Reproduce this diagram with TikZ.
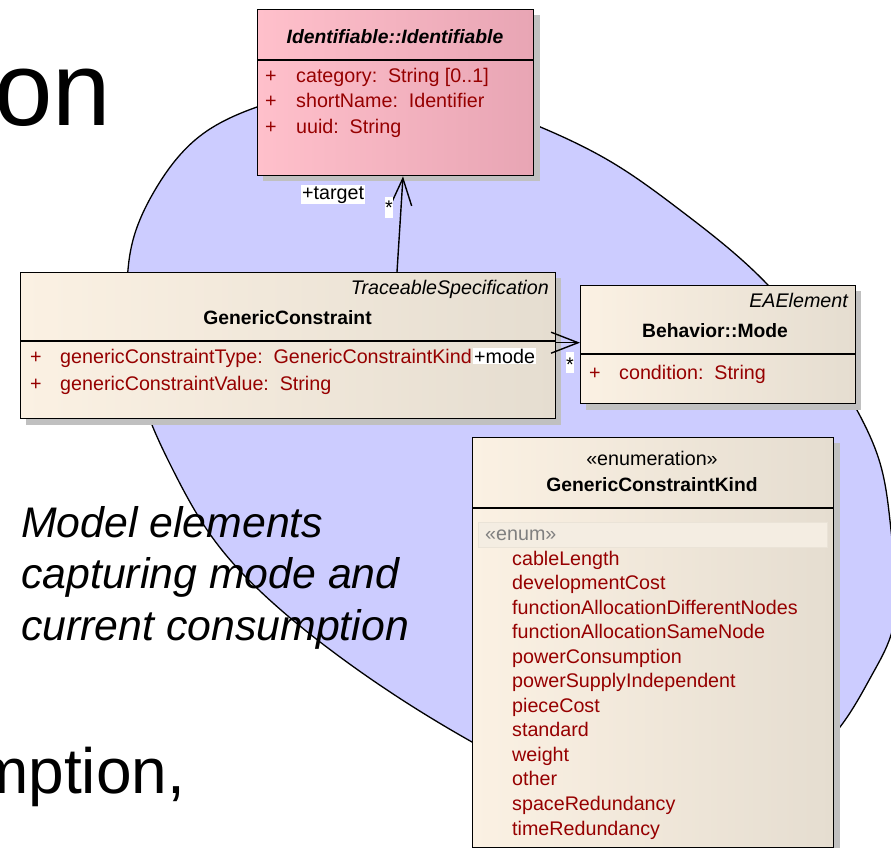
\documentclass[tikz,border=0pt]{standalone}
\usepackage{fontspec}
\setmainfont{Liberation Sans}
\usetikzlibrary{arrows.meta,calc,hobby}
\definecolor{ellfill}{RGB}{204,204,255}
\definecolor{attr}{RGB}{150,0,0}
\definecolor{creamL}{RGB}{251,241,227}
\definecolor{creamR}{RGB}{229,221,208}
\definecolor{pinkL}{RGB}{255,192,203}
\definecolor{pinkR}{RGB}{232,165,180}
\definecolor{shadowgray}{RGB}{192,192,192}
\definecolor{enumrow}{RGB}{244,237,226}
\definecolor{enumrowline}{RGB}{234,227,215}
\newcommand\umlfs{\fontsize{19.7}{24}\selectfont}
\newcommand\umlbf{\fontsize{19.3}{23}\selectfont\bfseries}
\newcommand\umlgap{\hspace{0.55em}}
\begin{document}
\begin{tikzpicture}[x=1pt,y=-1pt,
  umlbox/.style={draw=black,line width=1.4pt,inner sep=0pt,anchor=north west},
  cream/.style={left color=creamL,right color=creamR},
  pinkbox/.style={left color=pinkL,right color=pinkR},
  shadowbox/.style={fill=shadowgray},
  divider/.style={line width=1.3pt},
  txt/.style={inner sep=0pt,font=\umlfs},
  attrtxt/.style={txt,text=attr,anchor=base west},
  titletxt/.style={txt,font=\umlbf,anchor=base},
  stereo/.style={txt,font=\umlfs\itshape,anchor=base east},
  role/.style={txt,fill=white,anchor=base west,inner sep=1pt},
  starbox/.style={fill=white,inner sep=0pt,minimum width=8pt,minimum height=21pt,anchor=north west},
  assoc/.style={line width=1.4pt,-{Straight Barb[length=27pt,width=21pt,line width=1.4pt]}},
  bigtxt/.style={inner sep=0pt,anchor=base west},
  slidetxt/.style={bigtxt,font=\fontsize{42.8}{51}\selectfont\itshape},
]
\useasboundingbox (0,0) rectangle (891,848);
% background ellipse-like shape
\filldraw[fill=ellfill,draw=black,line width=1.3pt] plot[closed hobby] coordinates {
 (127,295) (133,240) (155,190) (200,136) (257,107)
 (320,90) (385,85) (460,98) (538,126) (613,163) (680,210) (767,284)
 (815,343) (858,412) (880,463) (891,530) (896,585) (891,635) (873,673) (840,727)
 (790,772) (720,800) (640,805) (560,785) (472,742) (407,703) (340,657)
 (273,603) (212,537) (173,470) (152,425) (137,380)};
% big slide texts
\node[bigtxt,font=\fontsize{105}{105}\selectfont] (big1) at (-6,126) {on};
\node[bigtxt,font=\fontsize{64}{64}\selectfont] (big2) at (-25,793) {mption,};
\node[slidetxt] (it1) at (21,537) {Model elements};
\node[slidetxt] (it2) at (21,588) {capturing mode and};
\node[slidetxt] (it3) at (21,640) {current consumption};
% shadows
\fill[shadowbox] (263,15) rectangle (540,181);
\fill[shadowbox] (26,278) rectangle (561,425);
\fill[shadowbox] (586,291) rectangle (861,410);
\fill[shadowbox] (478,443) rectangle (840,853);
% boxes
\node[umlbox,pinkbox,minimum width=276pt,minimum height=166pt] (ident) at (257,9) {};
\node[umlbox,cream,minimum width=535pt,minimum height=146pt] (gc) at (20,272) {};
\node[umlbox,cream,minimum width=275pt,minimum height=118pt] (mode) at (580,285) {};
\node[umlbox,cream,minimum width=361pt,minimum height=410pt] (enum) at (472,437) {};
% dividers
\draw[divider] (ident.west |- 0,60) -- (ident.east |- 0,60);
\draw[divider] (gc.west |- 0,341) -- (gc.east |- 0,341);
\draw[divider] (mode.west |- 0,354) -- (mode.east |- 0,354);
\draw[divider] (enum.west |- 0,508) -- (enum.east |- 0,508);
% Identifiable
\node[titletxt,font=\umlbf\itshape] (identt) at (395,44) {Identifiable::Identifiable};
\node[attrtxt] (ip1) at (265,83) {+};
\node[attrtxt] (ia1) at (296,83) {category:\umlgap String [0..1]};
\node[attrtxt] (ip2) at (265,108) {+};
\node[attrtxt] (ia2) at (296,108) {shortName:\umlgap Identifier};
\node[attrtxt] (ip3) at (265,133) {+};
\node[attrtxt] (ia3) at (296,133) {uuid:\umlgap String};
% GenericConstraint
\node[stereo] (gcs) at (549,294) {TraceableSpecification};
\node[titletxt] (gct) at (287.5,324) {GenericConstraint};
\node[attrtxt] (gp1) at (30,363) {+};
\node[attrtxt] (ga1) at (60,363) {genericConstraintType:\umlgap GenericConstraintKind};
\node[attrtxt] (gp2) at (30,390) {+};
\node[attrtxt] (ga2) at (60,390) {genericConstraintValue:\umlgap String};
% Mode
\node[stereo] (ms) at (848,307) {EAElement};
\node[titletxt] (mt) at (715,337) {Behavior::Mode};
\node[attrtxt] (mp1) at (589,379) {+};
\node[attrtxt] (ma1) at (619,379) {condition:\umlgap String};
% Enumeration
\node[txt,anchor=base] (es) at (652,465) {«enumeration»};
\node[titletxt] (et) at (652,491) {GenericConstraintKind};
\filldraw[fill=enumrow,draw=enumrowline,line width=0.8pt] (478,522) rectangle (827,547);
\node[txt,anchor=base west,text=gray] (ee) at (485,540) {«enum»};
\foreach \lit [count=\i from 0] in {cableLength,developmentCost,functionAllocationDifferentNodes,functionAllocationSameNode,powerConsumption,powerSupplyIndependent,pieceCost,standard,weight,other,spaceRedundancy,timeRedundancy}
  \node[attrtxt] (lit\i) at (512,565+24.55*\i) {\lit};
% associations
\draw[assoc] ([xshift=377pt]gc.north west) -- ([xshift=146pt]ident.south west);
\draw[assoc] ([yshift=3pt]gc.east) -- ([yshift=2pt]mode.west);
% role labels
\node[role] (rt) at (301,199) {+target};
\node[starbox] (sb1) at (385,197) {};
\node[txt,anchor=base] (s1) at (389,214) {*};
\node[role] (rm) at (473,363) {+mode};
\node[starbox] (sb2) at (566,352) {};
\node[txt,anchor=base] (s2) at (570,371) {*};
\end{tikzpicture}
\end{document}
